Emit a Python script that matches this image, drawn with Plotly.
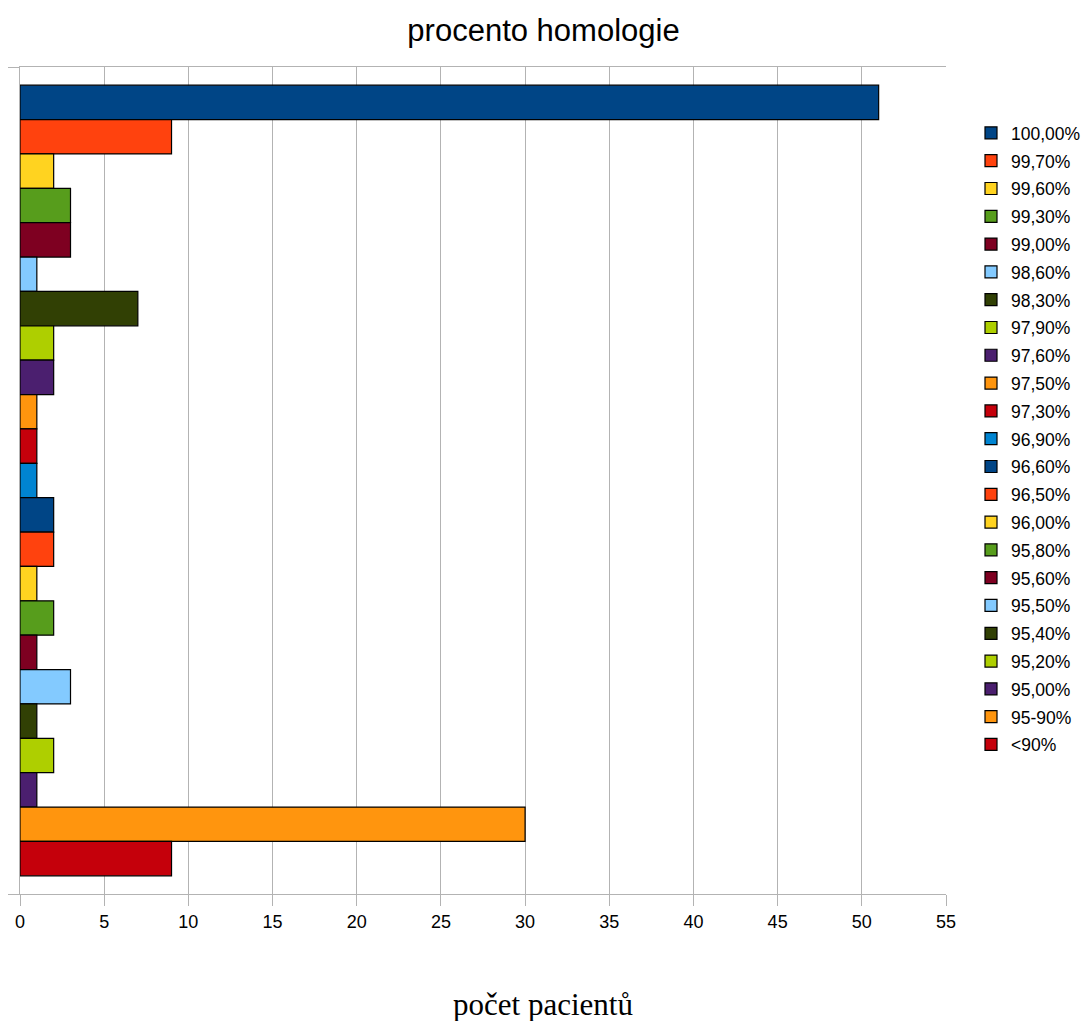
import plotly.graph_objects as go

labels = ["100,00%", "99,70%", "99,60%", "99,30%", "99,00%", "98,60%", "98,30%",
          "97,90%", "97,60%", "97,50%", "97,30%", "96,90%", "96,60%", "96,50%",
          "96,00%", "95,80%", "95,60%", "95,50%", "95,40%", "95,20%", "95,00%",
          "95-90%", "<90%"]
values = [51, 9, 2, 3, 3, 1, 7, 2, 2, 1, 1, 1, 2, 2, 1, 2, 1, 3, 1, 2, 1, 30, 9]
palette = ["#004586", "#ff420e", "#ffd320", "#579d1c", "#7e0021", "#83caff",
           "#314004", "#aecf00", "#4b1f6f", "#ff950e", "#c5000b", "#0084d1"]
category = ["procento homologie"]

fig = go.Figure()
for i, (lab, val) in enumerate(zip(labels, values)):
    fig.add_trace(go.Bar(
        x=[val], y=category, name=lab, orientation="h",
        marker=dict(color=palette[i % len(palette)], line=dict(color="#000000", width=1.2)),
        legendgroup=lab,
    ))

grid = "#b3b3b3"
plot_top, plot_bottom = 67, 894
fig.update_layout(
    width=1087, height=1021,
    margin=dict(l=19.5, r=141, t=plot_top, b=1021 - plot_bottom, autoexpand=False),
    paper_bgcolor="white", plot_bgcolor="white",
    font=dict(family="Liberation Sans, Arial, sans-serif", size=18, color="#000000"),
    barmode="group", bargap=0.044, bargroupgap=0,
    title=dict(text="procento homologie", x=0.5, xref="container", xanchor="center",
               y=1 - 30 / 1021, yref="container", yanchor="middle",
               font=dict(size=31)),
    showlegend=True,
    legend=dict(xref="container", yref="container", x=971 / 1087, y=1 - 115 / 1021,
                xanchor="left", yanchor="top", tracegroupgap=2.05, maxheight=950,
                font=dict(size=17.5, color="#000000"), bgcolor="rgba(0,0,0,0)"),
    xaxis=dict(range=[0, 55], dtick=5, tick0=0, showgrid=True, gridcolor=grid, gridwidth=1,
               showline=True, linecolor=grid, linewidth=1, mirror=True,
               ticks="outside", ticklen=11, tickcolor=grid, zeroline=False,
               tickfont=dict(size=18)),
    yaxis=dict(type="category", autorange="reversed", showticklabels=False,
               showgrid=False, showline=True, linecolor=grid, linewidth=1,
               ticks="outside", ticklen=11, tickcolor=grid, tickson="boundaries"),
    annotations=[dict(text="počet pacientů", xref="paper", yref="paper",
                      x=(543 - 19.5) / (946 - 19.5),
                      y=(plot_bottom - 1004) / (plot_bottom - plot_top),
                      xanchor="center", yanchor="middle", showarrow=False,
                      font=dict(family="Liberation Serif, Times New Roman, serif", size=31))],
)

fig.write_html("out.html")
